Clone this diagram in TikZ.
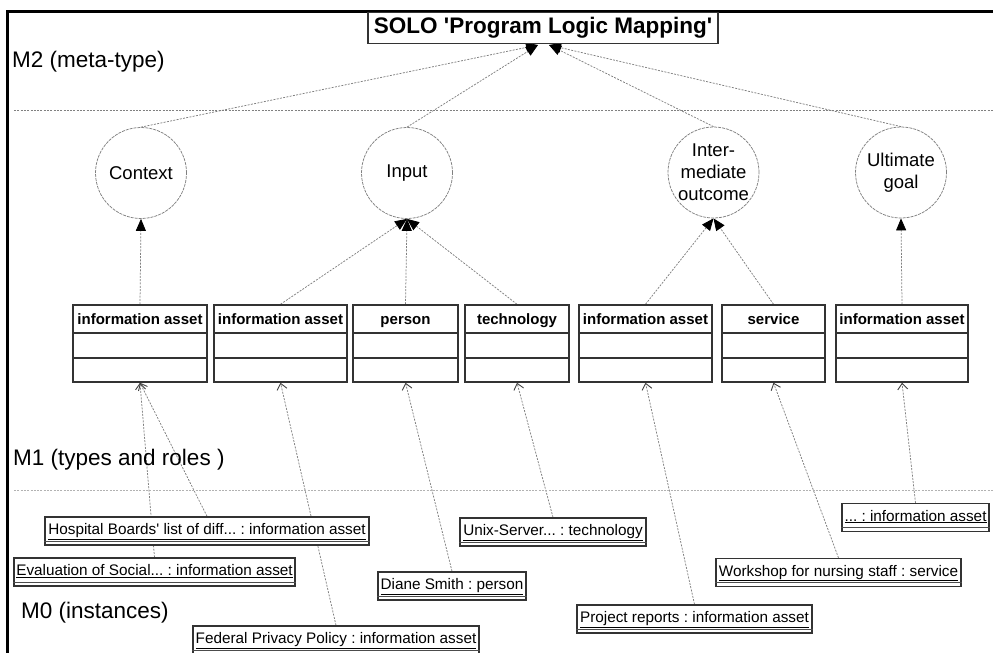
\documentclass[tikz,border=0pt]{standalone}
\usepackage{fontspec}
\setmainfont{Liberation Sans}
\usetikzlibrary{arrows.meta}
\pgfdeclarelayer{background}
\pgfsetlayers{background,main}
\newcommand{\tdots}{...}
\frenchspacing
\begin{document}
\begin{tikzpicture}[x=1pt,y=-1pt,
  conn/.style={draw=black!50, line width=0.75pt, dash pattern=on 2pt off 1.3pt},
  tip/.style={-{Triangle[length=12pt,width=10pt,black]}},
  opentip/.style={-{Straight Barb[length=6pt,width=10pt,line width=0.9pt,black!75]}},
  circ/.style={circle, draw=black!50, dash pattern=on 3pt off 1pt, line width=0.75pt, minimum size=91pt, inner sep=0pt, align=center, fill=white, font=\fontsize{18.5}{22}\selectfont},
  cls/.style={draw=black!80, line width=1.5pt, minimum height=77pt, inner sep=0pt, fill=white},
  clsline/.style={draw=black!80, line width=1.5pt},
  clshead/.style={font=\fontsize{15}{18}\selectfont\bfseries, inner sep=0pt, anchor=base},
  inst/.style={draw=black!80, line width=1.4pt, minimum height=28pt, inner sep=0pt, fill=white},
  instline/.style={draw=black!70, line width=0.8pt},
  insttext/.style={font=\fontsize{15.3}{18}\selectfont\frenchspacing, inner sep=0pt, anchor=base},
  lvl/.style={anchor=west, font=\fontsize{22.5}{27}\selectfont, inner sep=0pt},
  sep/.style={draw=black!50, dash pattern=on 2pt off 1.3pt, line width=0.7pt}]
\useasboundingbox (0,0) rectangle (993,653);
\clip (0,0) rectangle (993,653);
\draw[line width=3pt] (7,700) -- (7,11) -- (1000,11);

% title
\node[draw=black!80, line width=1.2pt, fill=white, minimum width=350pt, minimum height=31pt,
  font=\fontsize{22.5}{26}\selectfont\bfseries, inner sep=0pt] (title) at (543,28)
  {SOLO \textquotesingle Program Logic Mapping\textquotesingle};
\coordinate (tl) at (538,45);
\coordinate (tr) at (549,45);

% level labels and separators
\node[lvl] (m2) at (12,62) {M2 (meta-type)};
\node[lvl] (m1) at (13,460) {M1 (types and roles )};
\node[lvl] (m0) at (21,613) {M0 (instances)};
\coordinate (s1a) at (14,110); \coordinate (s1b) at (993,110);
\coordinate (s2a) at (14,490); \coordinate (s2b) at (993,490);
\draw[sep] (s1a) -- (s1b);
\draw[sep, draw=black!30] (s2a) -- (s2b);

% meta-types
\node[circ] (ctx) at (141,173) {Context};
\node[circ] (inp) at (407,173) {Input};
\node[circ] (int) at (713.5,172.5) {Inter-\\mediate\\outcome};
\node[circ] (ult) at (901,172.5) {Ultimate\\goal};

% types
\foreach \n/\cx/\w/\t in {b1/140/134/information asset, b2/280.5/133/information asset,
  b3/405.5/105/person, b4/517/104/technology, b5/645.5/133/information asset,
  b6/773.5/103/service, b7/902/132/information asset}{
  \node[cls, minimum width=\w pt] (\n) at (\cx,343.5) {};
  \node[clshead] (\n h) at (\cx,324.5) {\t};
  \draw[clsline] (\n.west |- 0,333) -- (\n.east |- 0,333);
  \draw[clsline] (\n.west |- 0,358) -- (\n.east |- 0,358);
}

% instances
\foreach \n/\cx/\cy/\w/\t in {
  hosp/207/531/324/Hospital Boards\textquotesingle\ list of diff\tdots\ : information asset,
  eval/154.5/572/281/Evaluation of Social\tdots\ : information asset,
  fed/336/640/286/Federal Privacy Policy : information asset,
  diane/452/586/148/Diane Smith : person,
  unix/553/532/186/Unix-Server\tdots\ : technology,
  proj/694.5/619/235/Project reports : information asset,
  work/838.5/572.5/245/Workshop for nursing staff : service,
  dots/915.5/517.5/147/\tdots\ : information asset}{
  \node[inst, minimum width=\w pt] (\n) at (\cx,\cy) {};
  \node[insttext] (\n t) at (\cx,\cy+3.5) {\underline{\t}};
  \draw[instline] ([yshift=4.5pt]\n.south west) -- ([yshift=4.5pt]\n.south east);
}

\begin{pgfonlayer}{background}
  % meta-types to title
  \draw[conn, tip] (ctx.north) -- (tl);
  \draw[conn, tip] (inp.north) -- (tl);
  \draw[conn, tip] (int.north) -- (tr);
  \draw[conn, tip] (ult.north) -- (tr);
  % types to meta-types
  \draw[conn, tip] (b1.north) -- (ctx.south);
  \draw[conn, tip] (b2.north) -- (inp.south);
  \draw[conn, tip] (b3.north) -- (inp.south);
  \draw[conn, tip] (b4.north) -- (inp.south);
  \draw[conn, tip] (b5.north) -- (int.south);
  \draw[conn, tip] (b6.north) -- (int.south);
  \draw[conn, tip] (b7.north) -- (ult.south);
  % instances to types
  \draw[conn, opentip] (hosp.north) -- (b1.south);
  \draw[conn, opentip] (eval.north) -- (b1.south);
  \draw[conn, opentip] (fed.north) -- (b2.south);
  \draw[conn, opentip] (diane.north) -- (b3.south);
  \draw[conn, opentip] (unix.north) -- (b4.south);
  \draw[conn, opentip] (proj.north) -- (b5.south);
  \draw[conn, opentip] (work.north) -- (b6.south);
  \draw[conn, opentip] (dots.north) -- (b7.south);
\end{pgfonlayer}
\end{tikzpicture}
\end{document}
